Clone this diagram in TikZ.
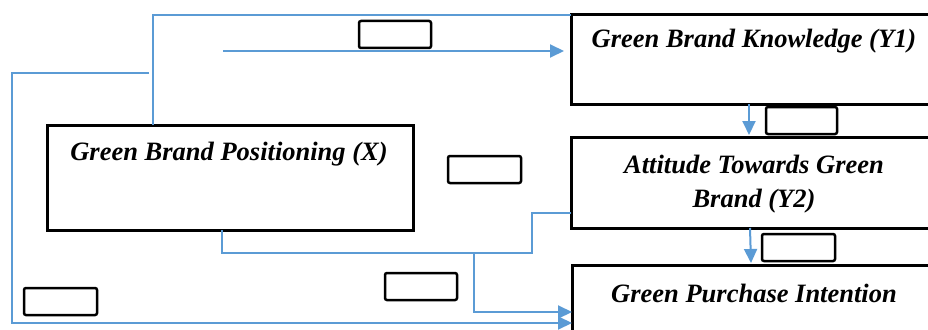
\documentclass[tikz,border=0pt]{standalone}
\usepackage{fontspec}
\setmainfont{Liberation Serif}
\usetikzlibrary{arrows.meta}
\definecolor{lineblue}{RGB}{91,155,213}
\tikzset{
  bigbox/.style={draw=black, line width=3pt, fill=white, inner sep=0pt, outer sep=0pt, anchor=north west},
  smallbox/.style={draw=black, line width=2.5pt, rounded corners=2pt, fill=white, inner sep=0pt, outer sep=0pt, anchor=north west, minimum width=72pt, minimum height=27pt},
  txt/.style={font=\fontsize{26.5}{34}\selectfont\bfseries\itshape, anchor=base, inner sep=0pt},
  conn/.style={draw=lineblue, line width=2pt},
  arr/.style={conn, -{Triangle[length=14pt,width=13pt]}},
}
\begin{document}
\begin{tikzpicture}[x=1pt,y=-1pt]
\useasboundingbox (0,0) rectangle (928,329);
\clip (0,0) rectangle (928,329);
\fill[white] (0,0) rectangle (928,329);
% connectors first
\coordinate (a2) at (223,51);
\coordinate (l0) at (149,73);
\coordinate (j) at (474,253);
% main boxes
\node[bigbox, minimum width=366pt, minimum height=105pt] (X) at (47,125) {};
\node[bigbox, minimum width=366pt, minimum height=89pt] (Y1) at (571,15) {};
\node[bigbox, minimum width=366pt, minimum height=91pt] (Y2) at (571,137) {};
\node[bigbox, minimum width=366pt, minimum height=80pt] (Y3) at (572,265) {};
% connectors
\draw[conn] (153,125) |- (Y1.north west);
\draw[arr, shorten >=7pt] (a2) -- (a2 -| Y1.west);
\draw[arr] (l0) -| (12,323) -- (Y3.west |- 0,323);
\draw[conn] (222,230) |- (j);
\draw[arr] (j) |- (Y3.west |- 0,312);
\draw[conn] (Y2.west |- 0,213) -| (532,253) -- (j);
\draw[arr] ([xshift=-5pt]Y1.south) -- ([xshift=-5pt,yshift=2pt]Y2.north);
\draw[arr] ([xshift=-4pt]Y2.south) -- ([xshift=-4pt,yshift=2pt]Y3.north);
% texts
\node[txt] (tX) at (229,160) {Green Brand Positioning (X)};
\node[txt] (tY1) at (754,48) {Green Brand Knowledge (Y1)};
\node[txt] (tY2a) at (754,173) {Attitude Towards Green};
\node[txt] (tY2b) at (754,207) {Brand (Y2)};
\node[txt] (tY3) at (754,302) {Green Purchase Intention};
% small empty boxes
\node[smallbox] (b1) at (359,21) {};
\node[smallbox, minimum width=73pt] (b2) at (448,156) {};
\node[smallbox, minimum width=71pt] (b3) at (766,107) {};
\node[smallbox, minimum width=73pt] (b4) at (762,234) {};
\node[smallbox, minimum width=73pt] (b5) at (24,288) {};
\node[smallbox] (b6) at (385,273) {};
\end{tikzpicture}
\end{document}
